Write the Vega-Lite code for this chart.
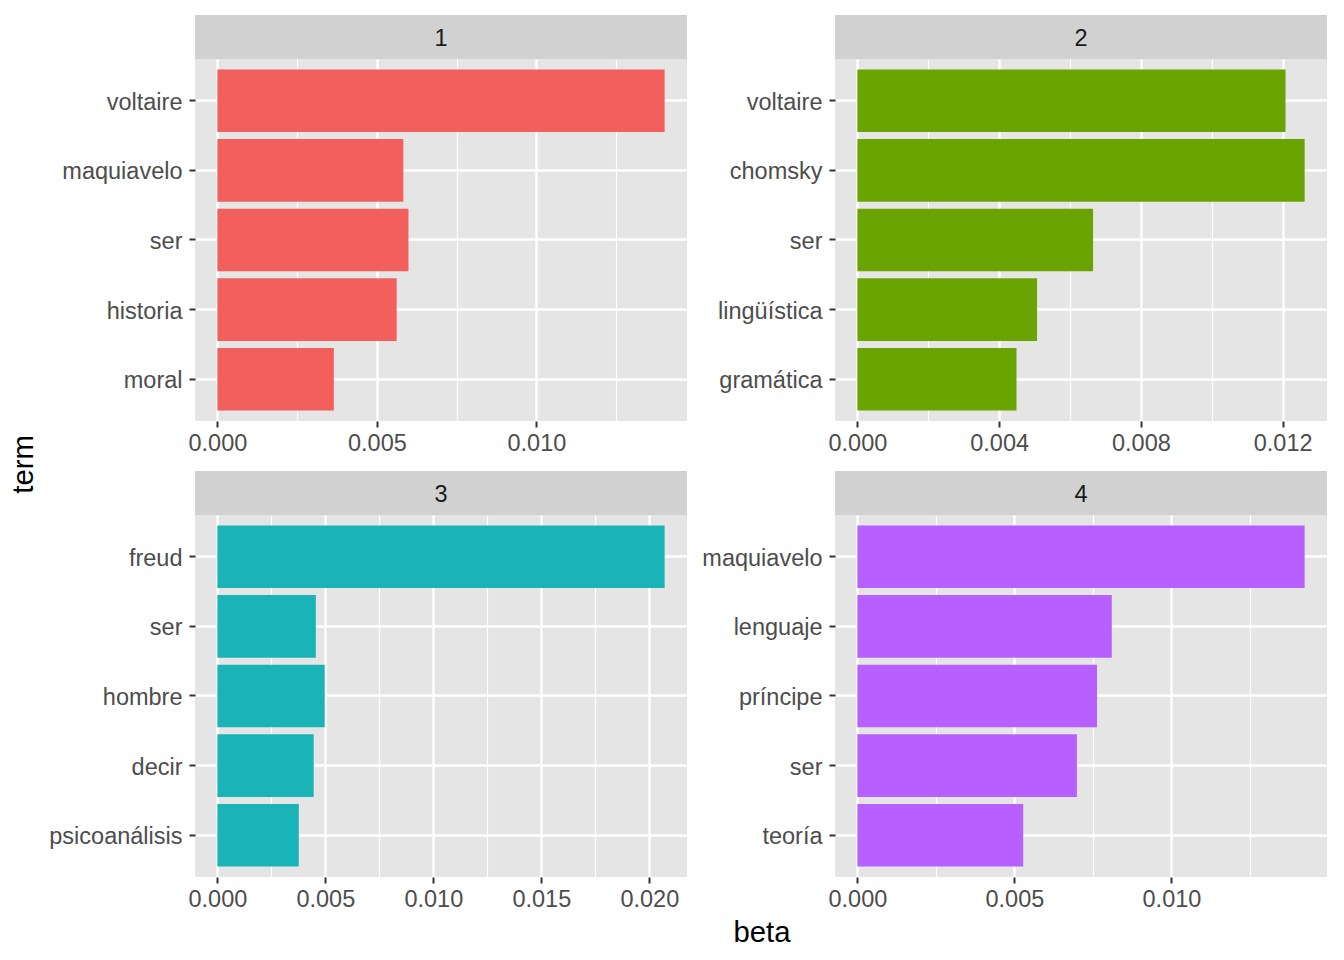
{
  "$schema": "https://vega.github.io/schema/vega-lite/v6.json",
  "background": "white",
  "padding": {"left": 9, "top": 15, "right": 16, "bottom": 14},
  "data": {"values": [
    {"topic": 1, "term": "voltaire", "beta": 0.01402, "rank": 1},
    {"topic": 1, "term": "maquiavelo", "beta": 0.00583, "rank": 2},
    {"topic": 1, "term": "ser", "beta": 0.00599, "rank": 3},
    {"topic": 1, "term": "historia", "beta": 0.00562, "rank": 4},
    {"topic": 1, "term": "moral", "beta": 0.00365, "rank": 5},
    {"topic": 2, "term": "voltaire", "beta": 0.01208, "rank": 1},
    {"topic": 2, "term": "chomsky", "beta": 0.01262, "rank": 2},
    {"topic": 2, "term": "ser", "beta": 0.00665, "rank": 3},
    {"topic": 2, "term": "lingüística", "beta": 0.00507, "rank": 4},
    {"topic": 2, "term": "gramática", "beta": 0.00449, "rank": 5},
    {"topic": 3, "term": "freud", "beta": 0.02071, "rank": 1},
    {"topic": 3, "term": "ser", "beta": 0.00456, "rank": 2},
    {"topic": 3, "term": "hombre", "beta": 0.00497, "rank": 3},
    {"topic": 3, "term": "decir", "beta": 0.00446, "rank": 4},
    {"topic": 3, "term": "psicoanálisis", "beta": 0.00377, "rank": 5},
    {"topic": 4, "term": "maquiavelo", "beta": 0.01424, "rank": 1},
    {"topic": 4, "term": "lenguaje", "beta": 0.0081, "rank": 2},
    {"topic": 4, "term": "príncipe", "beta": 0.00763, "rank": 3},
    {"topic": 4, "term": "ser", "beta": 0.00699, "rank": 4},
    {"topic": 4, "term": "teoría", "beta": 0.00528, "rank": 5}
  ]},
  "title": {"text": "term", "orient": "left", "anchor": "middle", "dx": 17, "fontSize": 29.3, "fontWeight": "normal", "color": "#000000", "font": "Liberation Sans", "offset": 8},
  "vconcat": [
    {
      "title": {"text": "beta", "orient": "bottom", "anchor": "middle", "frame": "bounds", "dx": 75, "fontSize": 29.3, "fontWeight": "normal", "color": "#000000", "font": "Liberation Sans", "offset": 8},
      "columns": 2,
      "spacing": {"row": 16, "column": 0},
      "resolve": {"scale": {"x": "independent", "y": "independent"}},
      "concat": [
        {
          "spacing": 0,
          "vconcat": [
            {
              "width": 492, "height": 44,
              "view": {"fill": "#D1D1D1", "stroke": null},
              "transform": [{"filter": "datum.topic == 1"}, {"aggregate": [{"op": "count", "as": "n"}], "groupby": ["topic"]}],
              "mark": {"type": "text", "fontSize": 23.5, "color": "#1A1A1A", "font": "Liberation Sans", "baseline": "middle", "align": "center", "dy": 2},
              "encoding": {
                "text": {"field": "topic", "type": "nominal"},
                "y": {"field": "topic", "type": "nominal", "axis": {"title": null, "labels": false, "ticks": false, "grid": false, "domain": false, "minExtent": 148}}
              }
            },
            {
              "width": 492, "height": 362,
              "transform": [{"filter": "datum.topic == 1"}],
              "mark": {"type": "bar"},
              "encoding": {
                "y": {"field": "term", "type": "nominal", "sort": {"field": "rank", "op": "min"}, "scale": {"paddingInner": 0.1, "paddingOuter": 0.15}, "axis": {"title": null, "minExtent": 148}},
                "x": {"field": "beta", "type": "quantitative", "scale": {"domain": [-0.000701, 0.014721], "nice": false, "zero": false},
                  "axis": {"title": null, "values": [0, 0.0025, 0.005, 0.0075, 0.01, 0.0125],
                    "labelExpr": "abs(datum.value*200 - round(datum.value*200)) < 0.001 ? format(datum.value, '.3f') : ''",
                    "gridWidth": {"condition": {"test": "abs(datum.value*200 - round(datum.value*200)) < 0.001", "value": 2.4}, "value": 1.2},
                    "tickOpacity": {"condition": {"test": "abs(datum.value*200 - round(datum.value*200)) < 0.001", "value": 1}, "value": 0}}},
                "color": {"field": "topic", "type": "nominal", "scale": {"domain": [1, 2, 3, 4], "range": ["#F35F5C", "#6AA403", "#1AB3B8", "#B760FF"]}, "legend": null}
              }
            }
          ]
        },
        {
          "spacing": 0,
          "vconcat": [
            {
              "width": 492, "height": 44,
              "view": {"fill": "#D1D1D1", "stroke": null},
              "transform": [{"filter": "datum.topic == 2"}, {"aggregate": [{"op": "count", "as": "n"}], "groupby": ["topic"]}],
              "mark": {"type": "text", "fontSize": 23.5, "color": "#1A1A1A", "font": "Liberation Sans", "baseline": "middle", "align": "center", "dy": 2},
              "encoding": {
                "text": {"field": "topic", "type": "nominal"},
                "y": {"field": "topic", "type": "nominal", "axis": {"title": null, "labels": false, "ticks": false, "grid": false, "domain": false, "minExtent": 148}}
              }
            },
            {
              "width": 492, "height": 362,
              "transform": [{"filter": "datum.topic == 2"}],
              "mark": {"type": "bar"},
              "encoding": {
                "y": {"field": "term", "type": "nominal", "sort": {"field": "rank", "op": "min"}, "scale": {"paddingInner": 0.1, "paddingOuter": 0.15}, "axis": {"title": null, "minExtent": 148}},
                "x": {"field": "beta", "type": "quantitative", "scale": {"domain": [-0.000631, 0.013251], "nice": false, "zero": false},
                  "axis": {"title": null, "values": [0, 0.002, 0.004, 0.006, 0.008, 0.01, 0.012],
                    "labelExpr": "abs(datum.value*250 - round(datum.value*250)) < 0.001 ? format(datum.value, '.3f') : ''",
                    "gridWidth": {"condition": {"test": "abs(datum.value*250 - round(datum.value*250)) < 0.001", "value": 2.4}, "value": 1.2},
                    "tickOpacity": {"condition": {"test": "abs(datum.value*250 - round(datum.value*250)) < 0.001", "value": 1}, "value": 0}}},
                "color": {"field": "topic", "type": "nominal", "scale": {"domain": [1, 2, 3, 4], "range": ["#F35F5C", "#6AA403", "#1AB3B8", "#B760FF"]}, "legend": null}
              }
            }
          ]
        },
        {
          "spacing": 0,
          "vconcat": [
            {
              "width": 492, "height": 44,
              "view": {"fill": "#D1D1D1", "stroke": null},
              "transform": [{"filter": "datum.topic == 3"}, {"aggregate": [{"op": "count", "as": "n"}], "groupby": ["topic"]}],
              "mark": {"type": "text", "fontSize": 23.5, "color": "#1A1A1A", "font": "Liberation Sans", "baseline": "middle", "align": "center", "dy": 2},
              "encoding": {
                "text": {"field": "topic", "type": "nominal"},
                "y": {"field": "topic", "type": "nominal", "axis": {"title": null, "labels": false, "ticks": false, "grid": false, "domain": false, "minExtent": 148}}
              }
            },
            {
              "width": 492, "height": 362,
              "transform": [{"filter": "datum.topic == 3"}],
              "mark": {"type": "bar"},
              "encoding": {
                "y": {"field": "term", "type": "nominal", "sort": {"field": "rank", "op": "min"}, "scale": {"paddingInner": 0.1, "paddingOuter": 0.15}, "axis": {"title": null, "minExtent": 148}},
                "x": {"field": "beta", "type": "quantitative", "scale": {"domain": [-0.0010355, 0.0217455], "nice": false, "zero": false},
                  "axis": {"title": null, "values": [0, 0.0025, 0.005, 0.0075, 0.01, 0.0125, 0.015, 0.0175, 0.02],
                    "labelExpr": "abs(datum.value*200 - round(datum.value*200)) < 0.001 ? format(datum.value, '.3f') : ''",
                    "gridWidth": {"condition": {"test": "abs(datum.value*200 - round(datum.value*200)) < 0.001", "value": 2.4}, "value": 1.2},
                    "tickOpacity": {"condition": {"test": "abs(datum.value*200 - round(datum.value*200)) < 0.001", "value": 1}, "value": 0}}},
                "color": {"field": "topic", "type": "nominal", "scale": {"domain": [1, 2, 3, 4], "range": ["#F35F5C", "#6AA403", "#1AB3B8", "#B760FF"]}, "legend": null}
              }
            }
          ]
        },
        {
          "spacing": 0,
          "vconcat": [
            {
              "width": 492, "height": 44,
              "view": {"fill": "#D1D1D1", "stroke": null},
              "transform": [{"filter": "datum.topic == 4"}, {"aggregate": [{"op": "count", "as": "n"}], "groupby": ["topic"]}],
              "mark": {"type": "text", "fontSize": 23.5, "color": "#1A1A1A", "font": "Liberation Sans", "baseline": "middle", "align": "center", "dy": 2},
              "encoding": {
                "text": {"field": "topic", "type": "nominal"},
                "y": {"field": "topic", "type": "nominal", "axis": {"title": null, "labels": false, "ticks": false, "grid": false, "domain": false, "minExtent": 148}}
              }
            },
            {
              "width": 492, "height": 362,
              "transform": [{"filter": "datum.topic == 4"}],
              "mark": {"type": "bar"},
              "encoding": {
                "y": {"field": "term", "type": "nominal", "sort": {"field": "rank", "op": "min"}, "scale": {"paddingInner": 0.1, "paddingOuter": 0.15}, "axis": {"title": null, "minExtent": 148}},
                "x": {"field": "beta", "type": "quantitative", "scale": {"domain": [-0.000712, 0.014952], "nice": false, "zero": false},
                  "axis": {"title": null, "values": [0, 0.0025, 0.005, 0.0075, 0.01, 0.0125],
                    "labelExpr": "abs(datum.value*200 - round(datum.value*200)) < 0.001 ? format(datum.value, '.3f') : ''",
                    "gridWidth": {"condition": {"test": "abs(datum.value*200 - round(datum.value*200)) < 0.001", "value": 2.4}, "value": 1.2},
                    "tickOpacity": {"condition": {"test": "abs(datum.value*200 - round(datum.value*200)) < 0.001", "value": 1}, "value": 0}}},
                "color": {"field": "topic", "type": "nominal", "scale": {"domain": [1, 2, 3, 4], "range": ["#F35F5C", "#6AA403", "#1AB3B8", "#B760FF"]}, "legend": null}
              }
            }
          ]
        }
      ]
    }
  ],
  "config": {
    "font": "Liberation Sans",
    "view": {"fill": "#E5E5E5", "stroke": null},
    "axis": {
      "domain": false,
      "grid": true,
      "gridColor": "#FFFFFF",
      "gridWidth": 2.4,
      "gridOpacity": 1,
      "ticks": true,
      "tickColor": "#333333",
      "tickSize": 6,
      "tickWidth": 2,
      "labelColor": "#4D4D4D",
      "labelFont": "Liberation Sans",
      "labelFontSize": 23.5,
      "labelPadding": 4,
      "labelOverlap": false,
      "labelFlush": false,
      "labelBound": false
    },
    "axisY": {"labelPadding": 7, "bandPosition": 0.5, "labelOffset": 2},
    "axisX": {"labelPadding": 4}
  }
}
